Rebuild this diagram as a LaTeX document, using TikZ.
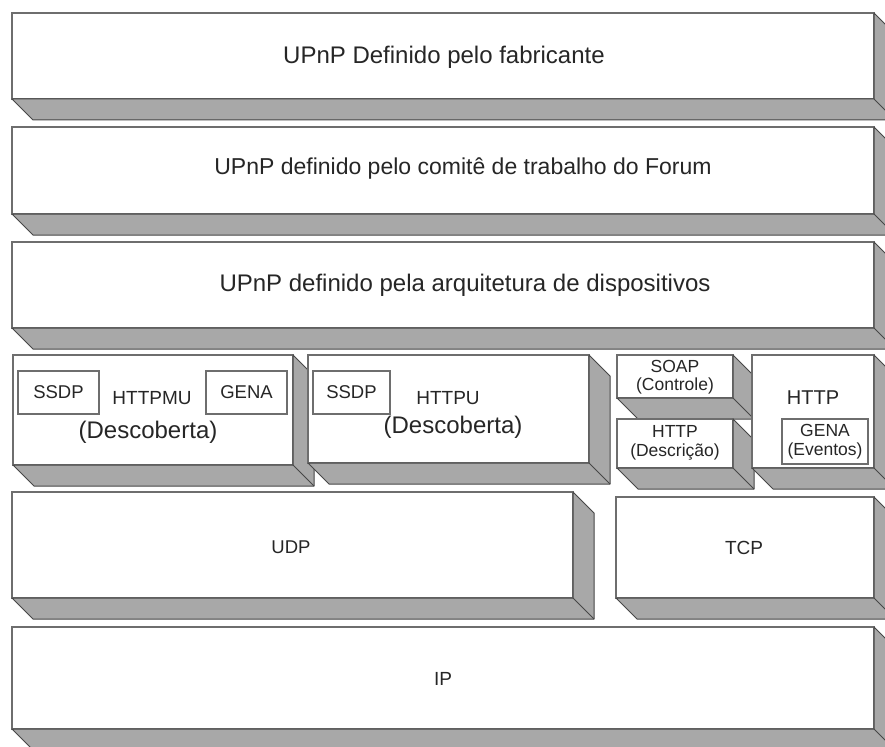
\documentclass[tikz,border=0pt]{standalone}
\usepackage{fontspec}
\setmainfont{Liberation Sans}
\usetikzlibrary{calc}

\definecolor{edgegray}{HTML}{6E6E6E}
\definecolor{shadowgray}{HTML}{A8A8A8}
\definecolor{shadowedge}{HTML}{474747}
\definecolor{inkgray}{HTML}{262626}

\tikzset{
  face/.style={draw=edgegray, line width=1.4pt, fill=white, inner sep=0pt,
               outer sep=0pt, anchor=north west},
  tag/.style={draw=edgegray, line width=1.1pt, fill=white, inner sep=0pt,
              outer sep=0pt, anchor=north west, text=inkgray, align=center},
  depth/.style={fill=shadowgray, draw=shadowedge, line width=1pt, line join=round},
  crease/.style={draw=shadowedge, line width=1pt},
  lbl/.style={inner sep=0pt, outer sep=0pt, text=inkgray, align=center},
}

% one layer block: white front face plus shaded bottom and right sides
% #1 name, (#2,#3) top-left corner, (#4,#5) bottom-right corner
\newcommand\slab[5]{%
  \pgfmathsetmacro\slabw{#4-#2}%
  \pgfmathsetmacro\slabh{#5-#3}%
  \node[face, minimum width=\slabw pt, minimum height=\slabh pt] (#1) at (#2,#3) {};
  \draw[depth] (#1.south west) -- ++(21,21)
     -- ($(#1.south east)+(21,21)$) -- ($(#1.north east)+(21,21)$)
     -- (#1.north east) -- (#1.south east) -- cycle;
  \draw[crease] (#1.south east) -- ++(21,21);
}
% small labelled box inside a layer: #1 name, corners, #6 font size, #7 text
\newcommand\tagbox[7]{%
  \pgfmathsetmacro\tagw{#4-#2}%
  \pgfmathsetmacro\tagh{#5-#3}%
  \node[tag, minimum width=\tagw pt, minimum height=\tagh pt,
        font=\fontsize{#6}{19}\selectfont] (#1) at (#2,#3) {#7};
}

\begin{document}
\begin{tikzpicture}[x=1pt, y=-1pt]
  \clip (0,0) rectangle (885,746);
  \useasboundingbox (0,0) rectangle (885,746);
  \fill[white] (0,0) rectangle (885,746);

  % application layers
  \slab{fab}{12}{13}{874}{99}
  \node[lbl, font=\fontsize{24}{26}\selectfont] (fabt) at (444,57) {UPnP Definido pelo fabricante};

  \slab{forum}{12}{127}{874}{214}
  \node[lbl, font=\fontsize{23}{26}\selectfont] (forumt) at (463,169) {UPnP definido pelo comitê de trabalho do Forum};

  \slab{arq}{12}{242}{874}{328}
  \node[lbl, font=\fontsize{24}{26}\selectfont] (arqt) at (465,285) {UPnP definido pela arquitetura de dispositivos};

  % discovery / control / description / eventing
  \slab{httpmu}{13}{355}{293}{465}
  \tagbox{ssdpa}{18}{371}{99}{414}{18.5}{SSDP}
  \tagbox{genaa}{206}{371}{287}{414}{18.5}{GENA}
  \node[lbl, font=\fontsize{19}{21}\selectfont] (httpmut) at (152,398) {HTTPMU};
  \node[lbl, font=\fontsize{24}{26}\selectfont] (desca) at (148,432) {(Descoberta)};

  \slab{httpu}{308}{355}{589}{463}
  \tagbox{ssdpb}{313}{371}{390}{414}{18.5}{SSDP}
  \node[lbl, font=\fontsize{19}{21}\selectfont] (httput) at (448,398) {HTTPU};
  \node[lbl, font=\fontsize{24}{26}\selectfont] (descb) at (453,427) {(Descoberta)};

  \slab{soap}{617}{355}{733}{398}
  \node[lbl, font=\fontsize{17.5}{18}\selectfont] (soapt) at (675,377) {SOAP\\(Controle)};

  \slab{httpd}{617}{419}{733}{468}
  \node[lbl, font=\fontsize{17.5}{19}\selectfont] (httpdt) at (675,443) {HTTP\\(Descrição)};

  \slab{http}{752}{355}{874}{468}
  \node[lbl, font=\fontsize{20}{22}\selectfont] (httpt) at (813,398) {HTTP};
  \tagbox{genab}{782}{419}{868}{464}{17.5}{GENA\\(Eventos)}

  % transport
  \slab{udp}{12}{492}{573}{598}
  \node[lbl, font=\fontsize{18.5}{20}\selectfont] (udpt) at (291,547) {UDP};

  \slab{tcp}{616}{497}{874}{598}
  \node[lbl, font=\fontsize{19}{21}\selectfont] (tcpt) at (744,548) {TCP};

  % network
  \slab{ip}{12}{627}{874}{729}
  \node[lbl, font=\fontsize{19}{21}\selectfont] (ipt) at (443,679) {IP};
\end{tikzpicture}
\end{document}
